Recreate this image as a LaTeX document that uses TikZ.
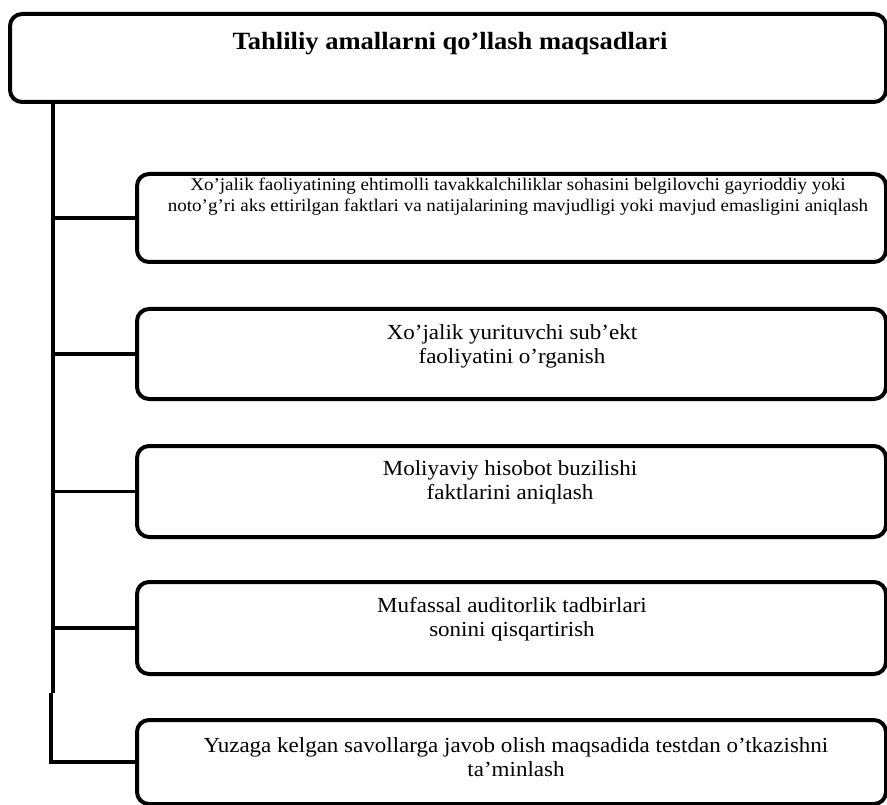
\documentclass[tikz,border=0pt]{standalone}
\usepackage{fontspec}
\setmainfont{Liberation Serif}
\newfontfamily\widefont[FakeStretch=1.07]{Liberation Serif}
\begin{document}
\begin{tikzpicture}[x=1pt,y=-1pt,
  box/.style={draw, line width=4pt, rounded corners=12pt, anchor=north west, inner sep=0pt},
  conn/.style={line width=3.5pt},
  lbl/.style={align=center, font=\widefont\fontsize{21.5}{24}\selectfont, inner sep=0pt},
  small/.style={align=center, font=\widefont\fontsize{17.8}{21}\selectfont, inner sep=0pt}]
\useasboundingbox (0,0) rectangle (887,805);
% boxes
\node[box, minimum width=876pt, minimum height=88pt] (top) at (8,12) {};
\node[box, minimum width=749pt, minimum height=88pt] (b1) at (135,172) {};
\node[box, minimum width=749pt, minimum height=90pt] (b2) at (135,307) {};
\node[box, minimum width=749pt, minimum height=91pt] (b3) at (135,444) {};
\node[box, minimum width=749pt, minimum height=92pt] (b4) at (135,580) {};
\node[box, minimum width=749pt, minimum height=84pt] (b5) at (135,718) {};
% texts
\node[inner sep=0pt, font=\widefont\fontsize{24.8}{28}\selectfont\bfseries] (t0) at (450,44) {Tahliliy amallarni qo’llash maqsadlari};
\node[small] (t1) at (518,197) {Xo’jalik faoliyatining ehtimolli tavakkalchiliklar sohasini belgilovchi gayrioddiy yoki\\noto’g’ri aks ettirilgan faktlari va natijalarining mavjudligi yoki mavjud emasligini aniqlash};
\node[lbl] (t2) at (512,346) {Xo’jalik yurituvchi sub’ekt\\faoliyatini o’rganish};
\node[lbl] (t3) at (510,482) {Moliyaviy hisobot buzilishi\\faktlarini aniqlash};
\node[lbl] (t4) at (512,619) {Mufassal auditorlik tadbirlari\\sonini qisqartirish};
\node[lbl] (t5) at (516,757) {Yuzaga kelgan savollarga javob olish maqsadida testdan o’tkazishni\\ta’minlash};
% connectors
\coordinate (v0) at (53,100);
\coordinate (j) at (51,693);
\draw[conn] (v0) -- (v0 |- j);
\draw[conn] (j) |- (b5.west);
\draw[conn] (b1.west) -- (b1.west -| v0);
\draw[conn] (b2.west) -- (b2.west -| v0);
\draw[conn] (b3.west) -- (b3.west -| v0);
\draw[conn] (b4.west) -- (b4.west -| v0);
\end{tikzpicture}
\end{document}
